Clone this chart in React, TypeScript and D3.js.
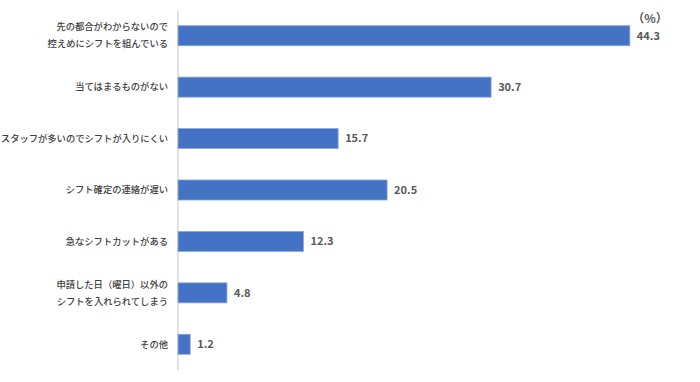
import React from "react";
import * as d3 from "d3";

const categories: string[][] = [
  ["先の都合がわからないので", "控えめにシフトを組んでいる"],
  ["当てはまるものがない"],
  ["スタッフが多いのでシフトが入りにくい"],
  ["シフト確定の連絡が遅い"],
  ["急なシフトカットがある"],
  ["申請した日（曜日）以外の", "シフトを入れられてしまう"],
  ["その他"],
];
const values: number[] = [44.3, 30.7, 15.7, 20.5, 12.3, 4.8, 1.2];
const unitLabel = "（%）";

const W = 700;
const H = 382;

export default function App() {
  const ids = categories.map((_, i) => String(i));
  const y = d3.scaleBand<string>().domain(ids).range([10, 370]).paddingInner(0.61).paddingOuter(0.305);
  const x = d3.scaleLinear().domain([0, 50]).range([178, 688]);
  const font = "'Noto Sans CJK JP', 'Noto Sans', sans-serif";
  return (
    <svg width={W} height={H} style={{ position: "absolute", left: 0, top: 0 }} fontFamily={font}>
      <rect width={W} height={H} fill="#fff" />
      <line x1={x(0)} x2={x(0)} y1={10} y2={370} stroke="#d9d9d9" strokeWidth={1.5} />
      {values.map((v, i) => {
        const yy = y(String(i))!;
        const bw = y.bandwidth();
        const cy = yy + bw / 2;
        const lines = categories[i];
        const lh = 17;
        return (
          <g key={i}>
            <rect x={x(0)} y={yy} width={x(v) - x(0)} height={bw} fill="#4472C4" stroke="#8FAADC" strokeWidth={0.8} />
            <text x={x(v) + 7} y={cy} dy="0.35em" fontSize={11} fontWeight={700} fill="#595959">
              {v.toFixed(1)}
            </text>
            {lines.map((l, j) => (
              <text
                key={j}
                x={168}
                y={cy + (j - (lines.length - 1) / 2) * lh}
                dy="0.35em"
                textAnchor="end"
                fontSize={9.3}
                fontWeight={500}
                fill="#404040"
              >
                {l}
              </text>
            ))}
          </g>
        );
      })}
      <text x={650} y={19} dy="0.35em" textAnchor="middle" fontSize={12} fontWeight={700} fill="#595959">
        {unitLabel}
      </text>
    </svg>
  );
}
